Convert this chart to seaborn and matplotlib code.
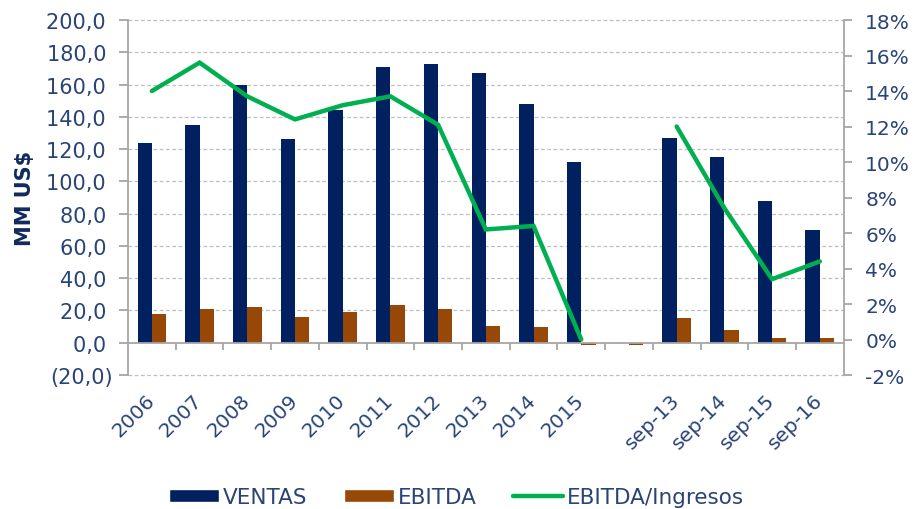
import numpy as np
import pandas as pd
import matplotlib
matplotlib.use("Agg")
import matplotlib.pyplot as plt
import matplotlib.transforms as mtransforms
import seaborn as sns
from matplotlib.ticker import FuncFormatter, FixedLocator
from matplotlib.patches import Patch
from matplotlib.lines import Line2D

categories = ["2006", "2007", "2008", "2009", "2010", "2011", "2012", "2013", "2014", "2015",
              " ", "sep-13", "sep-14", "sep-15", "sep-16"]
ventas = [124, 135, 160, 126, 144, 171, 173, 167, 148, 112, np.nan, 127, 115, 88, 70]
ebitda = [17.6, 20.7, 22.4, 16.0, 19.3, 23.2, 20.7, 10.3, 9.5, -1.5, -1.5, 15.1, 7.9, 3.1, 3.1]
margen = [14.0, 15.6, 13.7, 12.4, 13.2, 13.7, 12.1, 6.2, 6.4, 0.0, np.nan, 12.0, 7.4, 3.4, 4.4]

NAVY = "#002060"
BROWN = "#974706"
GREEN = "#00B050"
TXT = "#2A4478"
GRID = "#A6A6A6"

sns.set_style("white")
plt.rcParams["font.family"] = ["DejaVu Sans"]

df = pd.DataFrame({
    "cat": categories * 2,
    "valor": ventas + ebitda,
    "serie": ["VENTAS"] * len(categories) + ["EBITDA"] * len(categories),
})

fig = plt.figure(figsize=(9.17, 5.10), dpi=100)
ax = fig.add_axes([0.1396, 0.2627, 0.7804, 0.6961])

sns.barplot(data=df, x="cat", y="valor", hue="serie", order=categories,
            palette={"VENTAS": NAVY, "EBITDA": BROWN}, width=0.6, gap=0,
            saturation=1, linewidth=0, legend=False, ax=ax)

ax.set_ylim(-20, 200)
ax.set_xlim(-0.5, len(categories) - 0.5)
ax.set_yticks(np.arange(-20, 201, 20))
ax.yaxis.set_major_formatter(FuncFormatter(
    lambda v, p: f"({abs(v):.1f})".replace(".", ",") if v < 0 else f"{v:.1f} ".replace(".", ",")))
for y in np.arange(-20, 201, 20):
    if y != 0:
        ax.axhline(y, color="#BFBFBF", lw=0.9, ls=(0, (3, 2)), zorder=0, clip_on=False)
ax.axhline(0, color=GRID, lw=1.3, zorder=3)

for s in ["top", "right", "bottom"]:
    ax.spines[s].set_visible(False)
ax.spines["left"].set_color(GRID)
ax.spines["left"].set_linewidth(1.3)
ax.tick_params(axis="y", colors=GRID, labelcolor=TXT, labelsize=15, length=6.5, width=1.3,
               direction="out", pad=4.5)
ax.tick_params(axis="x", length=0, labelcolor=TXT, labelsize=14.5, pad=11)
shift = mtransforms.ScaledTranslation(-7 / 100, 0, fig.dpi_scale_trans)
for lab in ax.get_xticklabels():
    lab.set_rotation(45)
    lab.set_ha("right")
    lab.set_rotation_mode("anchor")
    lab.set_transform(lab.get_transform() + shift)
ax.set_xlabel("")
ax.set_ylabel("MM US$", color="#0F2A5C", fontsize=15, fontweight="bold", labelpad=8)

# category boundary ticks on the zero line
sec = ax.secondary_xaxis(20 / 220)
sec.xaxis.set_major_locator(FixedLocator(np.arange(0.5, len(categories) - 1, 1)))
sec.tick_params(axis="x", direction="out", length=5, width=1.3, colors=GRID, labelbottom=False)
sec.spines["bottom"].set_visible(False)

ax2 = ax.twinx()
ax2.plot(np.arange(len(categories)), np.array(margen) / 100, color=GREEN, lw=3.2,
         solid_joinstyle="miter", zorder=5)
ax2.set_ylim(-0.02, 0.18)
ax2.set_yticks(np.arange(-0.02, 0.181, 0.02))
ax2.yaxis.set_major_formatter(FuncFormatter(lambda v, p: f"{v * 100:.0f}%"))
for s in ["top", "left", "bottom"]:
    ax2.spines[s].set_visible(False)
ax2.spines["right"].set_color(GRID)
ax2.spines["right"].set_linewidth(1.3)
ax2.tick_params(axis="y", colors=GRID, labelcolor=TXT, labelsize=14.5, length=6, width=1.3,
                direction="out", pad=9.5)

handles = [Patch(facecolor=NAVY), Patch(facecolor=BROWN), Line2D([], [], color=GREEN, lw=3.2)]
fig.legend(handles, ["VENTAS", "EBITDA", "EBITDA/Ingresos"], loc="center",
           bbox_to_anchor=(0.498, 0.024), ncol=3, frameon=False, fontsize=15.5,
           handlelength=2.3, handleheight=0.55, handletextpad=0.2, columnspacing=1.7,
           labelcolor=TXT, borderpad=0, borderaxespad=0)

fig.savefig("out.png", dpi=100)
